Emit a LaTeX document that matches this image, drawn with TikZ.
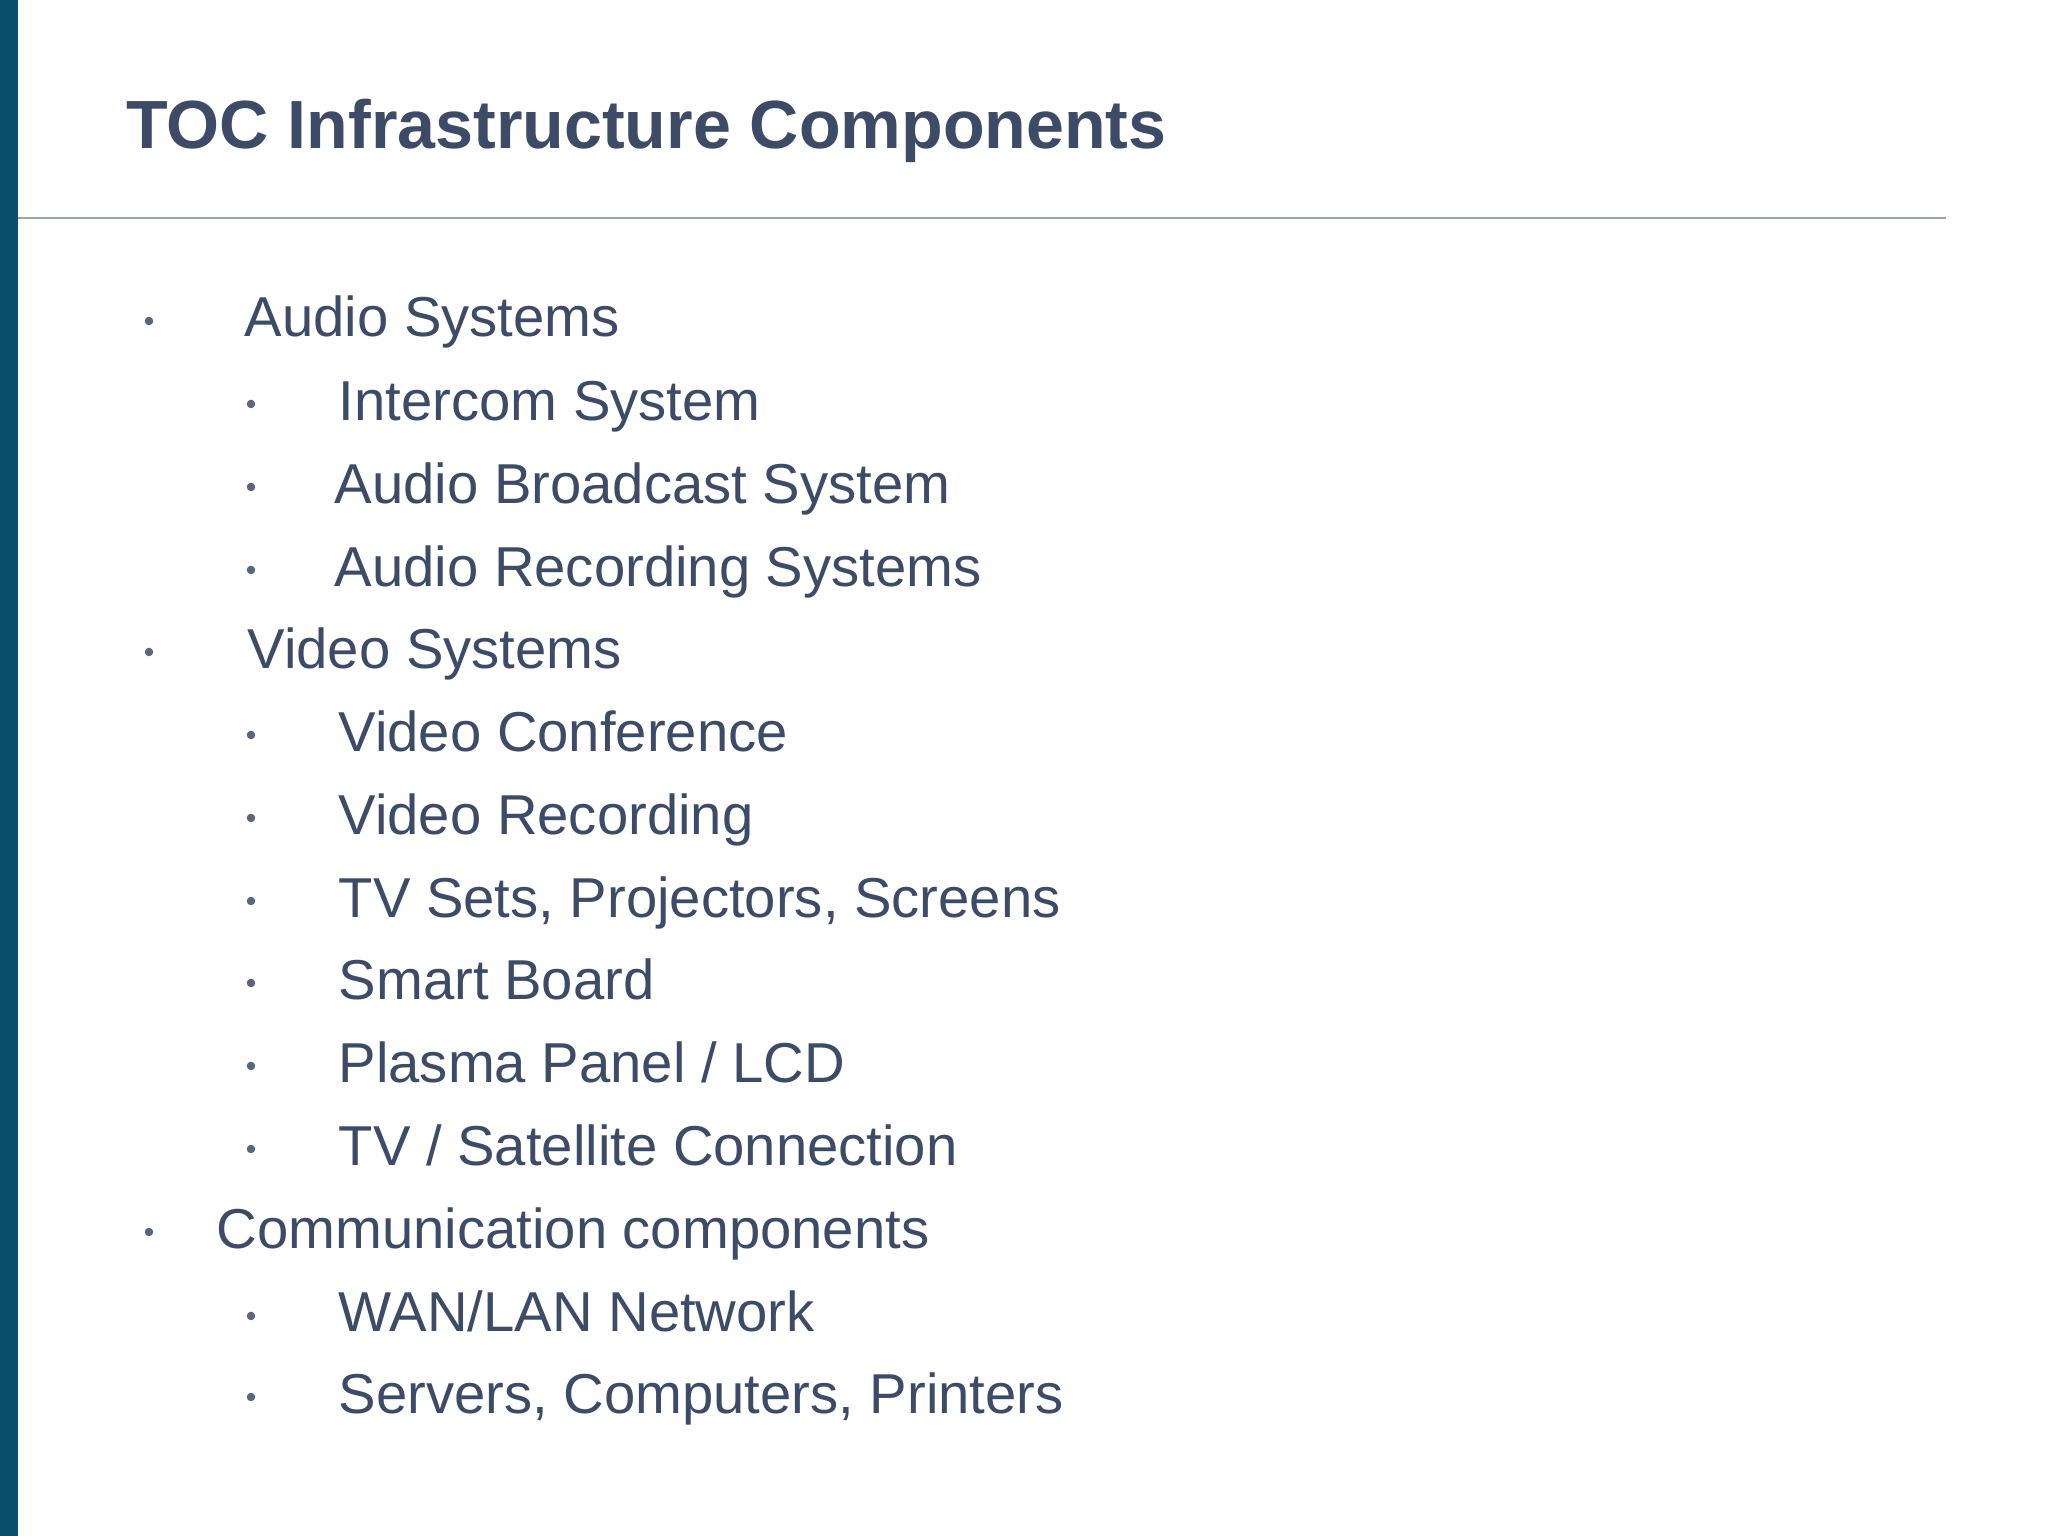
\documentclass[tikz,border=0pt]{standalone}
\usepackage{fontspec}
\setmainfont{Liberation Sans}
\definecolor{txt}{HTML}{3D4B66}
\definecolor{bar}{HTML}{0B4F6C}
\definecolor{rule}{HTML}{9AA6AE}
\begin{document}
\begin{tikzpicture}[
  item/.style={anchor=mid west, inner sep=0pt, text=txt, font=\fontsize{16}{19}\selectfont},
  dot/.style={circle, fill=txt!85, inner sep=0pt, minimum size=0.085cm},
  title/.style={anchor=mid west, inner sep=0pt, text=txt, font=\fontsize{19.4}{23}\selectfont\bfseries}]
\useasboundingbox (0,0) rectangle (20.48,15.36);
\fill[white] (0,0) rectangle (20.48,15.36);
\fill[bar] (0,0) rectangle (0.185,15.36);
\node[title] (t) at (1.254,13.97) {TOC Infrastructure Components};
\coordinate (l1) at (0.185,13.18);
\coordinate (l2) at (19.46,13.18);
\draw[rule, line width=0.8pt] (l1) -- (l2);
\node[dot] (b1) at (1.49,12.15) {};
\node[item] (i1) at (2.44,12.083) {Audio Systems};
\node[dot] (b2) at (2.51,11.32) {};
\node[item] (i2) at (3.38,11.252) {Intercom System};
\node[dot] (b3) at (2.51,10.49) {};
\node[item] (i3) at (3.34,10.421) {Audio Broadcast System};
\node[dot] (b4) at (2.51,9.66) {};
\node[item] (i4) at (3.34,9.589) {Audio Recording Systems};
\node[dot] (b5) at (1.49,8.84) {};
\node[item] (i5) at (2.47,8.771) {Video Systems};
\node[dot] (b6) at (2.51,8.01) {};
\node[item] (i6) at (3.38,7.940) {Video Conference};
\node[dot] (b7) at (2.51,7.18) {};
\node[item] (i7) at (3.38,7.108) {Video Recording};
\node[dot] (b8) at (2.51,6.35) {};
\node[item] (i8) at (3.38,6.277) {TV Sets, Projectors, Screens};
\node[dot] (b9) at (2.51,5.53) {};
\node[item] (i9) at (3.38,5.459) {Smart Board};
\node[dot] (b10) at (2.51,4.70) {};
\node[item] (i10) at (3.38,4.628) {Plasma Panel / LCD};
\node[dot] (b11) at (2.51,3.87) {};
\node[item] (i11) at (3.38,3.796) {TV / Satellite Connection};
\node[dot] (b12) at (1.49,3.04) {};
\node[item] (i12) at (2.16,2.965) {Communication components};
\node[dot] (b13) at (2.51,2.20) {};
\node[item] (i13) at (3.38,2.134) {WAN/LAN Network};
\node[dot] (b14) at (2.51,1.39) {};
\node[item] (i14) at (3.38,1.315) {Servers, Computers, Printers};
\end{tikzpicture}
\end{document}
